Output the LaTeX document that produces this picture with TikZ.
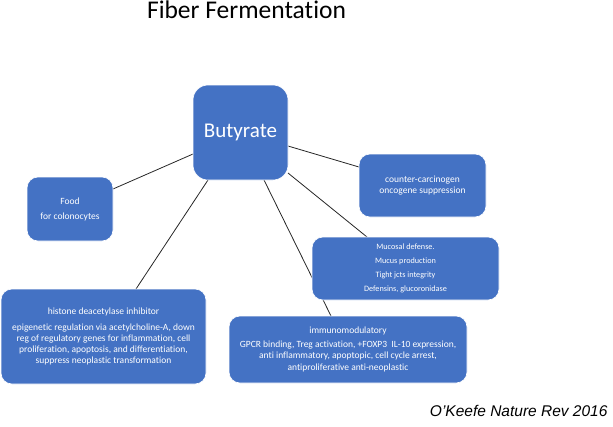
\documentclass[tikz,border=0pt]{standalone}
\usepackage{fontspec}
\setmainfont{Carlito}[Ligatures={NoCommon}]
\newfontfamily\citefont{Liberation Sans}
\usetikzlibrary{positioning}
\definecolor{boxblue}{HTML}{4472C4}

\begin{document}
\begin{tikzpicture}[x=1pt, y=-1pt,
      elem/.style={rectangle, draw=white, line width=0.6pt, fill=boxblue,
                   text=white, rounded corners=11pt, align=center,
                   inner sep=0pt},
      small/.style={font=\fontsize{9.5}{11}\selectfont},
      tiny/.style={font=\fontsize{8.2}{14}\selectfont},
      link/.style={draw=black!85, line width=0.8pt}
    ]
      \useasboundingbox (0,0) rectangle (613,426);

      % title and citation
      \node[anchor=base, font=\fontsize{25.5}{30}\selectfont]
        (title) at (246.5,18) {Fiber Fermentation};
      \node[anchor=base east, font=\citefont\itshape\fontsize{15.5}{18}\selectfont]
        (cite) at (611,416) {O’Keefe Nature Rev 2016};

      % connectors first, boxes drawn over them
      \coordinate (b_food) at (193,154);
      \coordinate (b_counter) at (288,146);
      \coordinate (b_histone) at (208,180);
      \coordinate (b_immuno) at (264,180);
      \coordinate (b_mucosal) at (288,173);
      \coordinate (food_in) at (113,189);
      \coordinate (counter_in) at (359,167);
      \coordinate (histone_in) at (136,289);
      \coordinate (immuno_in) at (331,316);
      \coordinate (mucosal_in) at (367,237);

      \draw[link] (b_food) -- (food_in);
      \draw[link] (b_counter) -- (counter_in);
      \draw[link] (b_histone) -- (histone_in);
      \draw[link] (b_immuno) -- (immuno_in);
      \draw[link] (b_mucosal) -- (mucosal_in);

      \node[elem, rounded corners=15pt, minimum width=95, minimum height=95,
            font=\fontsize{21}{24}\selectfont]
        (butyrate) at (240.5,132.5) {Butyrate};

      \node[elem, small, minimum width=127, minimum height=63]
        (counter) at (422.5,185.5) {counter-carcinogen\\oncogene suppression};

      \node[elem, minimum width=86, minimum height=64,
            font=\fontsize{9.5}{15}\selectfont]
        (food) at (70,209) {Food\\for colonocytes};

      \node[elem, tiny, minimum width=187, minimum height=63]
        (mucosal) at (405.5,268.5)
        {Mucosal defense.\\Mucus production\\Tight jcts integrity\\Defensins, glucoronidase};

      \node[elem, minimum width=205, minimum height=95,
            font=\fontsize{9.5}{10.8}\selectfont]
        (histone) at (103.5,336.5)
        {histone deacetylase inhibitor\\[5pt]
         epigenetic regulation via acetylcholine-A, down\\
         reg of regulatory genes for inflammation, cell\\
         proliferation, apoptosis, and differentiation,\\
         suppress neoplastic transformation};

      \node[elem, minimum width=238, minimum height=67,
            font=\fontsize{9.5}{11.5}\selectfont]
        (immuno) at (348,349.5)
        {immunomodulatory\\[2pt]
         GPCR binding, Treg activation, +FOXP3\ \ IL-10 expression,\\
         anti inflammatory, apoptopic, cell cycle arrest,\\
         antiproliferative anti-neoplastic};
    \end{tikzpicture}
\end{document}
